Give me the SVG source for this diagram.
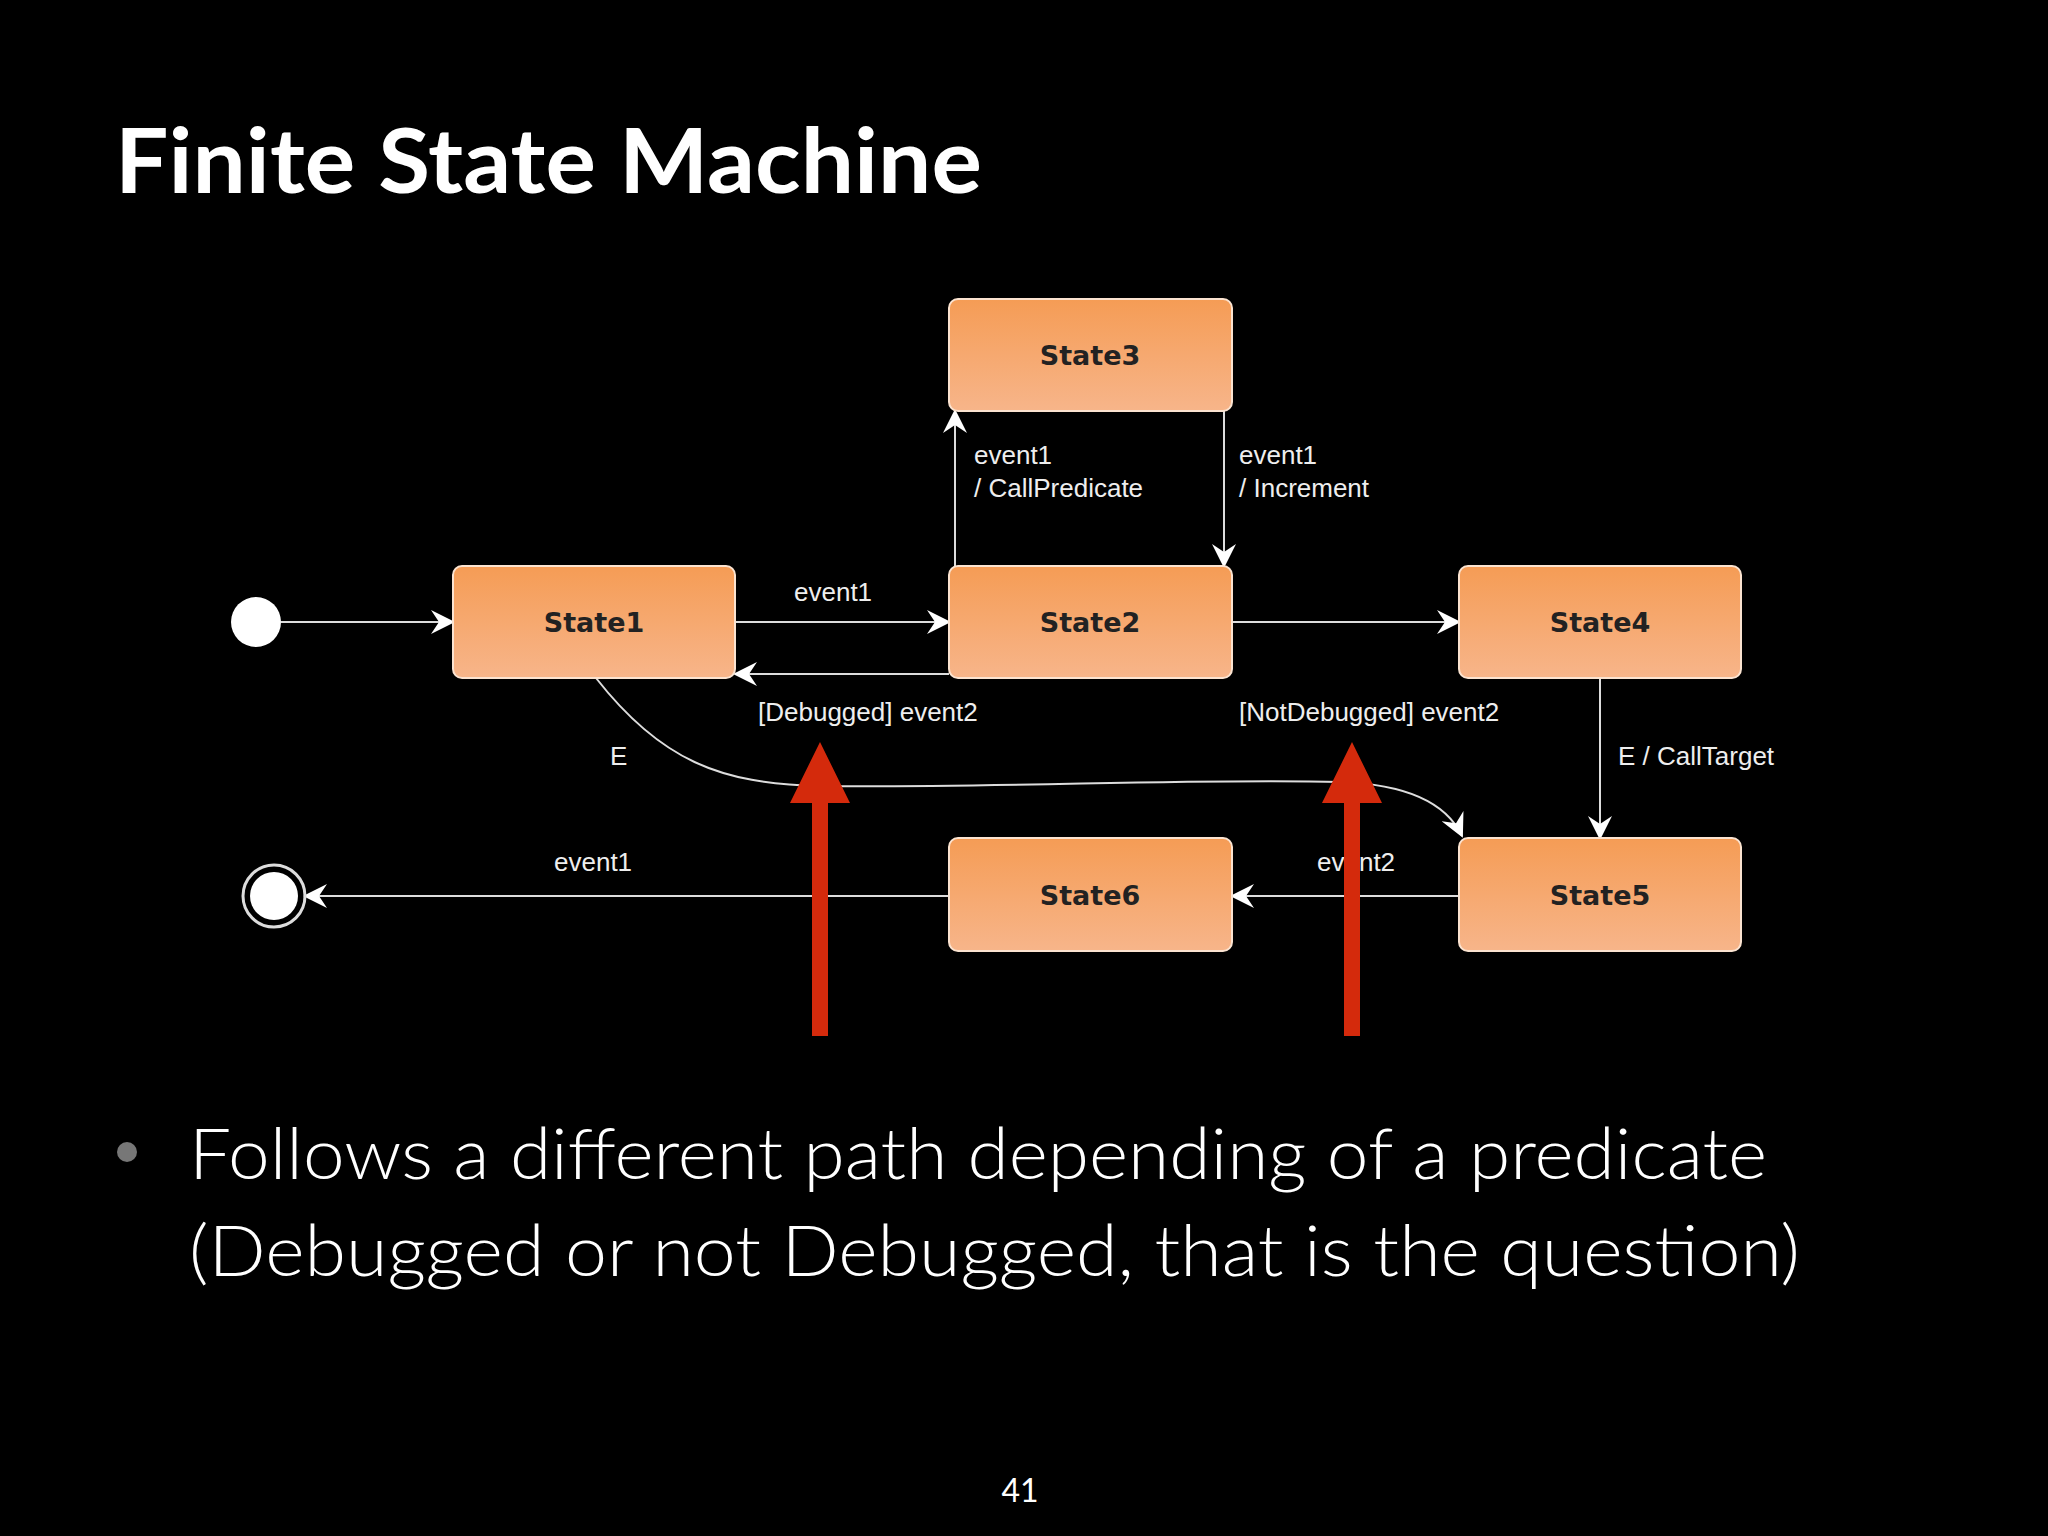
<svg xmlns="http://www.w3.org/2000/svg" width="2048" height="1536" viewBox="0 0 2048 1536">
<defs>
<linearGradient id="g" x1="0" y1="0" x2="0" y2="1"><stop offset="0" stop-color="#f59c55"/><stop offset="1" stop-color="#f7b58a"/></linearGradient>
<marker id="ab" viewBox="0 0 12 12" refX="11" refY="6" markerWidth="24" markerHeight="24" markerUnits="userSpaceOnUse" orient="auto"><path d="M0,0 L12,6 L0,12 L4,6 Z" fill="#fff"/></marker>
</defs>
<style>
.st rect{fill:url(#g);stroke:#fbe3d0;stroke-width:2}
.st text{font-family:"DejaVu Sans",sans-serif;font-size:27px;font-weight:bold;fill:#222;text-anchor:middle}
.c{stroke:#ddd;stroke-width:2;fill:none;marker-end:url(#ab)}
.l{font-family:"Liberation Sans",Arial,sans-serif;font-size:26px;fill:#eee}
</style>
<rect width="2048" height="1536" fill="#000"/>
<text x="115" y="193" font-family="Lato,'Open Sans',sans-serif" font-weight="bold" font-size="90" fill="#fff" textLength="867" lengthAdjust="spacingAndGlyphs">Finite State Machine</text>
<g id="connectors">
<path class="c" d="M281,622 H453"/>
<path class="c" d="M735,622 H949"/>
<path class="c" d="M949,674 H735"/>
<path class="c" d="M955,566 V411"/>
<path class="c" d="M1224,411 V566"/>
<path class="c" d="M1232,622 H1459"/>
<path class="c" d="M1600,678 V838"/>
<path class="c" d="M596,678 C660,760 720,784 820,786 C1000,788 1200,778 1340,782 C1400,784 1445,800 1462,836"/>
<path class="c" d="M1459,896 H1232"/>
<path class="c" d="M949,896 H305"/>
<text class="l" x="794" y="601">event1</text>
<text class="l" x="758" y="721">[Debugged] event2</text>
<text class="l" x="974" y="464">event1</text>
<text class="l" x="974" y="497">/ CallPredicate</text>
<text class="l" x="1239" y="464">event1</text>
<text class="l" x="1239" y="497">/ Increment</text>
<text class="l" x="1239" y="721">[NotDebugged] event2</text>
<text class="l" x="1618" y="765">E / CallTarget</text>
<text class="l" x="610" y="765">E</text>
<text class="l" x="1317" y="871">event2</text>
<text class="l" x="554" y="871">event1</text>
</g>
<g id="init"><circle cx="256" cy="622" r="25" fill="#fff"/></g>
<g id="final"><circle cx="274" cy="896" r="31" fill="none" stroke="#ddd" stroke-width="3"/><circle cx="274" cy="896" r="24" fill="#fff"/></g>
<g id="State3" class="st"><rect x="949" y="299" width="283" height="112" rx="9"/><text x="1090" y="365">State3</text></g>
<g id="State1" class="st"><rect x="453" y="566" width="282" height="112" rx="9"/><text x="594" y="632">State1</text></g>
<g id="State2" class="st"><rect x="949" y="566" width="283" height="112" rx="9"/><text x="1090" y="632">State2</text></g>
<g id="State4" class="st"><rect x="1459" y="566" width="282" height="112" rx="9"/><text x="1600" y="632">State4</text></g>
<g id="State6" class="st"><rect x="949" y="838" width="283" height="113" rx="9"/><text x="1090" y="905">State6</text></g>
<g id="State5" class="st"><rect x="1459" y="838" width="282" height="113" rx="9"/><text x="1600" y="905">State5</text></g>
<g id="redarrows" fill="#d42a0c">
<path d="M812,1036 V803 H790 L820,742 L850,803 H828 V1036 Z"/>
<path d="M1344,1036 V803 H1322 L1352,742 L1382,803 H1360 V1036 Z"/>
</g>
<circle cx="127" cy="1152" r="10" fill="#777"/>
<g font-family="Lato,'Open Sans',sans-serif" font-weight="300" font-size="70" fill="#fff">
<text x="189" y="1179" textLength="1578" lengthAdjust="spacingAndGlyphs">Follows a different path depending of a predicate</text>
<text x="189" y="1276" textLength="1611" lengthAdjust="spacingAndGlyphs">(Debugged or not Debugged, that is the question)</text>
</g>
<text x="1020" y="1502" font-family="Lato,sans-serif" font-size="32" fill="#fff" text-anchor="middle">41</text>
</svg>
